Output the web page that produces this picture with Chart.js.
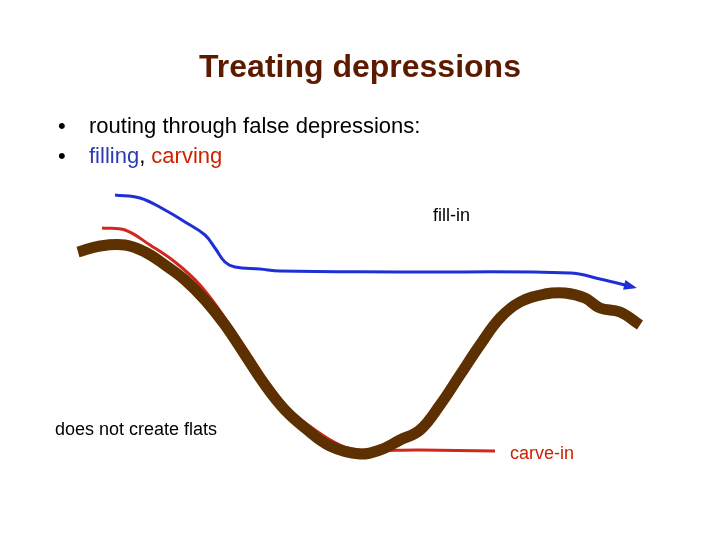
<!DOCTYPE html>
<html>
<head>
<meta charset="utf-8">
<script src="https://cdn.jsdelivr.net/npm/chart.js@4"></script>
<style>
  body { margin: 0; background: #fff; }
  #wrap { width: 720px; height: 540px; }
</style>
</head>
<body>
<div id="wrap"><canvas id="slide"></canvas></div>
<script>
// terrain profile, carve path and fill path (x, y in slide units)
const terrainX = [78, 100, 125, 145, 165, 185, 205, 225, 245, 265, 285, 305, 330, 360, 380, 400, 420, 440, 460, 480, 500, 520, 545, 565, 585, 600, 620, 640];
const terrainY = [252, 246, 245, 252, 265, 280, 300, 325, 355, 385, 410, 428, 446, 454, 450, 440, 430, 405, 375, 345, 318, 302, 294, 293, 298, 308, 312, 325];
const carveX = [102, 125, 150, 175, 200, 225, 250, 270, 290, 315, 340, 360, 420, 495];
const carveY = [228, 230, 245, 262, 285, 318, 355, 385, 410, 430, 445, 450, 450, 451];
const fillX = [115, 140, 165, 185, 205, 215, 225, 235, 260, 280, 400, 570, 600, 633];
const fillY = [195, 198, 210, 222, 235, 248, 262, 267, 269, 271, 272, 273, 279, 287];

const toPoints = (xs, ys) => xs.map((x, i) => ({ x: x, y: ys[i] }));

const slideText = {
   id: 'slideText',
   afterDraw(chart) {
      const ctx = chart.ctx;
      const xs = chart.scales.x, ys = chart.scales.y;
      ctx.save();
      ctx.textBaseline = 'middle';

      // arrow head at the end of the fill path
      const n = fillX.length;
      const x1 = xs.getPixelForValue(fillX[n - 1]), y1 = ys.getPixelForValue(fillY[n - 1]);
      const x0 = xs.getPixelForValue(fillX[n - 2]), y0 = ys.getPixelForValue(fillY[n - 2]);
      const a = Math.atan2(y1 - y0, x1 - x0);
      ctx.fillStyle = '#1f2fd6';
      ctx.beginPath();
      ctx.moveTo(x1 + 4 * Math.cos(a), y1 + 4 * Math.sin(a));
      ctx.lineTo(x1 - 9 * Math.cos(a) - 5 * Math.sin(a), y1 - 9 * Math.sin(a) + 5 * Math.cos(a));
      ctx.lineTo(x1 - 9 * Math.cos(a) + 5 * Math.sin(a), y1 - 9 * Math.sin(a) - 5 * Math.cos(a));
      ctx.fill();

      ctx.font = 'bold 32px "Liberation Sans", Arial, sans-serif';
      ctx.fillStyle = '#5c1a00';
      ctx.textAlign = 'center';
      ctx.fillText('Treating depressions', 360, 68);

      ctx.textAlign = 'left';
      ctx.font = '22px "Liberation Sans", Arial, sans-serif';
      ctx.fillStyle = '#000';
      ctx.fillText('•', 58, 127);
      ctx.fillText('routing through false depressions:', 89, 127);
      ctx.fillText('•', 58, 157);
      ctx.fillStyle = '#2b3bb8';
      ctx.fillText('filling', 89, 157);
      let w = ctx.measureText('filling').width;
      ctx.fillStyle = '#000';
      ctx.fillText(',', 89 + w, 157);
      w += ctx.measureText(', ').width;
      ctx.fillStyle = '#cc2200';
      ctx.fillText('carving', 89 + w, 157);

      ctx.font = '18px "Liberation Sans", Arial, sans-serif';
      ctx.fillStyle = '#000';
      ctx.fillText('fill-in', 433, 216);
      ctx.fillText('does not create flats', 55, 430);
      ctx.fillStyle = '#cc2200';
      ctx.fillText('carve-in', 510, 454);
      ctx.restore();
   }
};

new Chart(document.getElementById('slide'), {
   type: 'line',
   data: {
      datasets: [
         { data: toPoints(terrainX, terrainY), borderColor: '#5c3000', borderWidth: 11, tension: 0.4, pointRadius: 0 },
         { data: toPoints(carveX, carveY), borderColor: '#d0281a', borderWidth: 3, tension: 0.4, pointRadius: 0 },
         { data: toPoints(fillX, fillY), borderColor: '#1f2fd6', borderWidth: 3, tension: 0.4, pointRadius: 0 },
      ],
   },
   options: {
      responsive: true,
      maintainAspectRatio: false,
      animation: false,
      layout: { padding: 0 },
      plugins: { legend: { display: false }, tooltip: { enabled: false } },
      scales: {
         x: { type: 'linear', min: 0, max: 720, display: false },
         y: { type: 'linear', min: 0, max: 540, reverse: true, display: false },
      },
   },
   plugins: [slideText],
});
</script>
</body>
</html>
